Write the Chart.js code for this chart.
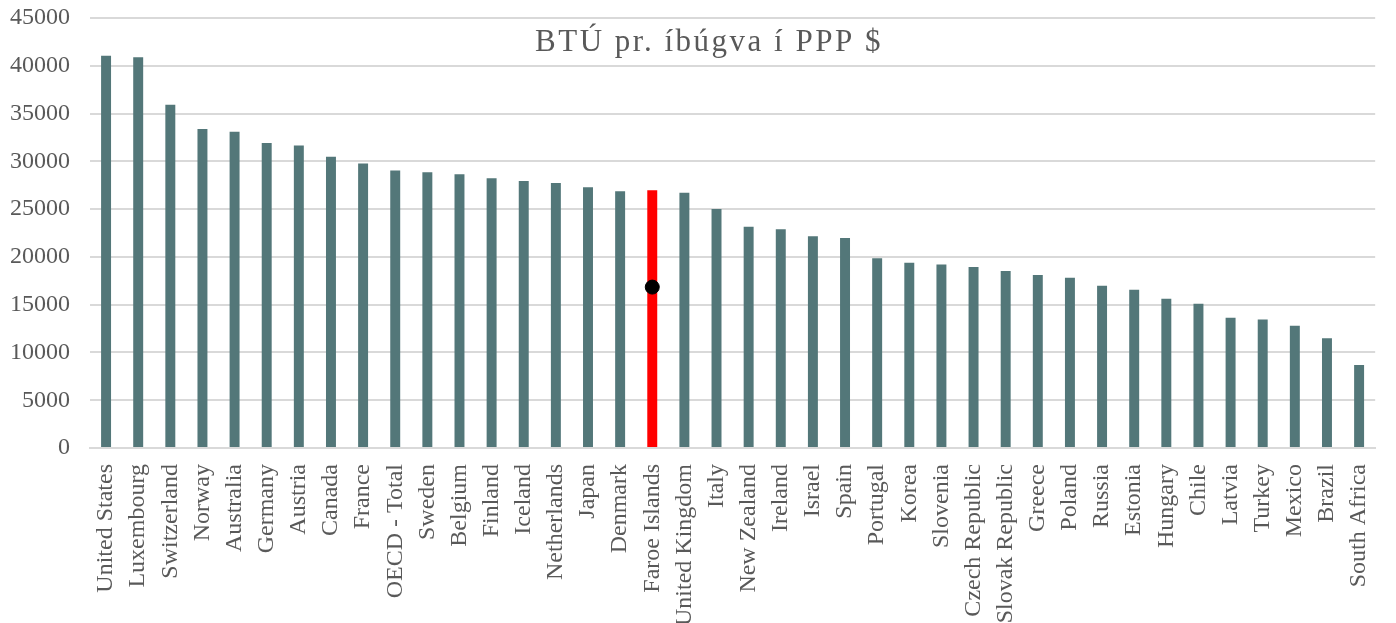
<!DOCTYPE html>
<html lang="fo">
<head>
  <meta charset="UTF-8" />
  <title>BTÚ pr. íbúgva</title>
  <script src="https://cdn.jsdelivr.net/npm/chart.js"></script>
  <style>
    body {
      margin: 0;
      background: #fff;
      overflow: hidden;
    }

    .wrap {
      position: relative;
      width: 1396px;
      height: 634px;
    }
  </style>
</head>
<body>
  <div class="wrap">
    <canvas id="btuChart" width="1396" height="634"></canvas>
  </div>

  <script>
    const countries = [
      'United States', 'Luxembourg', 'Switzerland', 'Norway', 'Australia',
      'Germany', 'Austria', 'Canada', 'France', 'OECD - Total',
      'Sweden', 'Belgium', 'Finland', 'Iceland', 'Netherlands',
      'Japan', 'Denmark', 'Faroe Islands', 'United Kingdom', 'Italy',
      'New Zealand', 'Ireland', 'Israel', 'Spain', 'Portugal',
      'Korea', 'Slovenia', 'Czech Republic', 'Slovak Republic', 'Greece',
      'Poland', 'Russia', 'Estonia', 'Hungary', 'Chile',
      'Latvia', 'Turkey', 'Mexico', 'Brazil', 'South Africa'
    ];

    const gdpPerCapita = [
      41050, 40900, 35930, 33380, 33100,
      31910, 31670, 30470, 29780, 29050,
      28870, 28660, 28240, 27930, 27720,
      27300, 26880, 26980, 26700, 25000,
      23150, 22900, 22150, 21970, 19850,
      19400, 19200, 18950, 18520, 18100,
      17830, 16990, 16570, 15620, 15100,
      13630, 13450, 12790, 11490, 8700
    ];

    const highlight = 'Faroe Islands';
    const highlightMarker = 16840;

    const yTicks = [0, 5000, 10000, 15000, 20000, 25000, 30000, 35000, 40000, 45000];

    const chartTitle = 'BTÚ pr. íbúgva í PPP $';

    const barColors = countries.map(c => c === highlight ? '#ff0000' : '#537779');
    const markerData = countries.map(c => c === highlight ? highlightMarker : null);

    const textColor = '#595959';
    const serif = "'Liberation Serif', 'Times New Roman', serif";

    // title sits inside the plot area, so draw it by hand
    const titlePlugin = {
      id: 'innerTitle',
      afterDraw(chart) {
        const c = chart.ctx;
        c.save();
        c.font = '31px ' + serif;
        c.fillStyle = textColor;
        c.textAlign = 'center';
        c.textBaseline = 'alphabetic';
        c.letterSpacing = '2.5px';
        c.fillText(chartTitle, 709, 51);
        c.restore();
      }
    };

    const ctx = document.getElementById('btuChart').getContext('2d');
    new Chart(ctx, {
      type: 'bar',
      data: {
        labels: countries,
        datasets: [
          {
            type: 'line',
            data: markerData,
            showLine: false,
            pointRadius: 7,
            pointHoverRadius: 7,
            pointBackgroundColor: '#000',
            pointBorderColor: '#000',
            order: 0
          },
          {
            data: gdpPerCapita,
            backgroundColor: barColors,
            borderWidth: 0,
            barPercentage: 0.31,
            categoryPercentage: 1,
            order: 1
          }
        ]
      },
      options: {
        responsive: false,
        animation: false,
        layout: { padding: { top: 18, left: 0, right: 0, bottom: 0 } },
        plugins: {
          legend: { display: false },
          tooltip: { enabled: false }
        },
        scales: {
          x: {
            grid: { display: false },
            border: { color: '#d9d9d9', width: 2 },
            ticks: {
              color: textColor,
              font: { family: serif, size: 24 },
              minRotation: 90,
              maxRotation: 90,
              autoSkip: false,
              padding: 8
            }
          },
          y: {
            min: 0,
            max: 45000,
            afterBuildTicks: scale => {
              scale.ticks = yTicks.map(v => ({ value: v }));
            },
            afterFit: scale => {
              scale.width = 90;
              scale.paddingTop = 0;
            },
            grid: { color: '#d9d9d9', lineWidth: 2, drawTicks: false },
            border: { display: false },
            ticks: {
              color: textColor,
              font: { family: serif, size: 24 },
              padding: 20,
              callback: v => String(v)
            }
          }
        }
      },
      plugins: [titlePlugin]
    });
  </script>
</body>
</html>
